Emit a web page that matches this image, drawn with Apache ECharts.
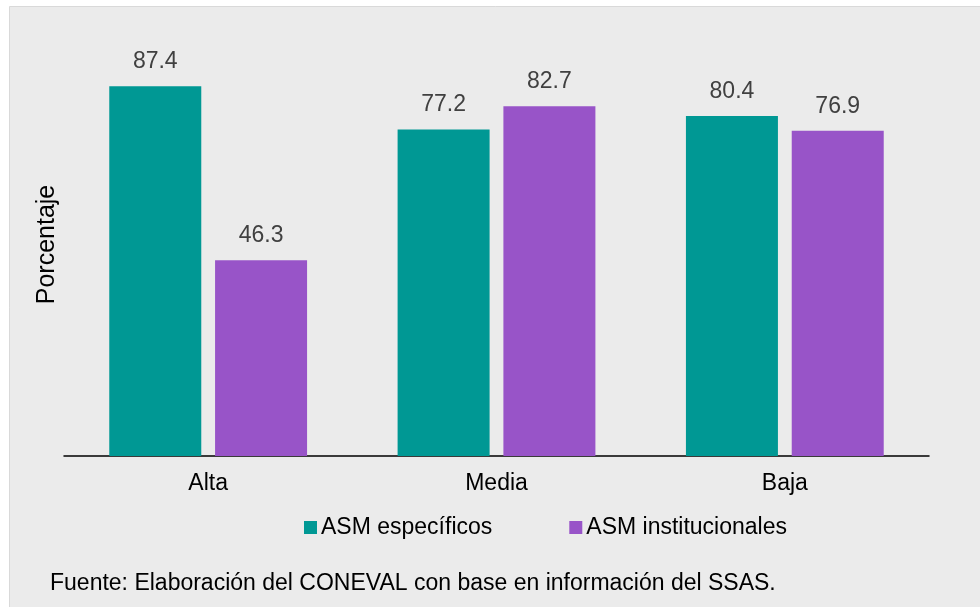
<!DOCTYPE html>
<html>
<head>
<meta charset="utf-8">
<script src="https://cdn.jsdelivr.net/npm/echarts@6/dist/echarts.min.js"></script>
<style>
  html, body { margin: 0; padding: 0; background: #fff; }
  #chart { width: 980px; height: 607px; }
</style>
</head>
<body>
<div id="chart"></div>
<script>
var categories = ['Alta', 'Media', 'Baja'];
var especificos = [87.4, 77.2, 80.4];
var institucionales = [46.3, 82.7, 76.9];
var seriesNames = ['ASM específicos', 'ASM institucionales'];

var font = '"Liberation Sans", Arial, sans-serif';
var chart = echarts.init(document.getElementById('chart'));

var labelStyle = {
  show: true,
  position: 'top',
  distance: 13,
  fontFamily: font,
  fontSize: 23,
  color: '#404040',
  formatter: function (p) { return p.value.toFixed(1); }
};

chart.setOption({
  animation: false,
  textStyle: { fontFamily: font },
  graphic: [
    {
      type: 'rect',
      z: -10,
      silent: true,
      shape: { x: 9.5, y: 6.5, width: 1000, height: 700 },
      style: { fill: '#ebebeb', stroke: '#d9d9d9', lineWidth: 1 }
    },
    {
      type: 'text',
      left: 50,
      top: 572,
      style: {
        text: 'Fuente: Elaboración del CONEVAL con base en información del SSAS.',
        font: '23px ' + font,
        fill: '#000'
      }
    }
  ],
  grid: {
    left: 64,
    right: 51,
    top: 33,
    bottom: 151
  },
  legend: {
    left: 299,
    top: 511,
    itemWidth: 13,
    itemHeight: 13,
    itemGap: 77,
    icon: 'rect',
    textStyle: { fontFamily: font, fontSize: 23, color: '#000', padding: [0, 0, 0, -1] },
    data: seriesNames
  },
  xAxis: {
    type: 'category',
    data: categories,
    axisTick: { show: false },
    axisLine: { lineStyle: { color: '#000', width: 1.5 } },
    axisLabel: { fontFamily: font, fontSize: 23, color: '#000', margin: 16 }
  },
  yAxis: {
    type: 'value',
    min: 0,
    max: 100,
    name: 'Porcentaje',
    nameLocation: 'middle',
    nameGap: 4,
    nameTextStyle: { fontFamily: font, fontSize: 25, color: '#000' },
    axisLine: { show: false },
    axisTick: { show: false },
    axisLabel: { show: false },
    splitLine: { show: false }
  },
  series: [
    {
      name: seriesNames[0],
      type: 'bar',
      data: especificos,
      barWidth: 92,
      barGap: '15%',
      itemStyle: { color: '#009894' },
      label: labelStyle
    },
    {
      name: seriesNames[1],
      type: 'bar',
      data: institucionales,
      barWidth: 92,
      itemStyle: { color: '#9854c8' },
      label: labelStyle
    }
  ]
});
</script>
</body>
</html>
